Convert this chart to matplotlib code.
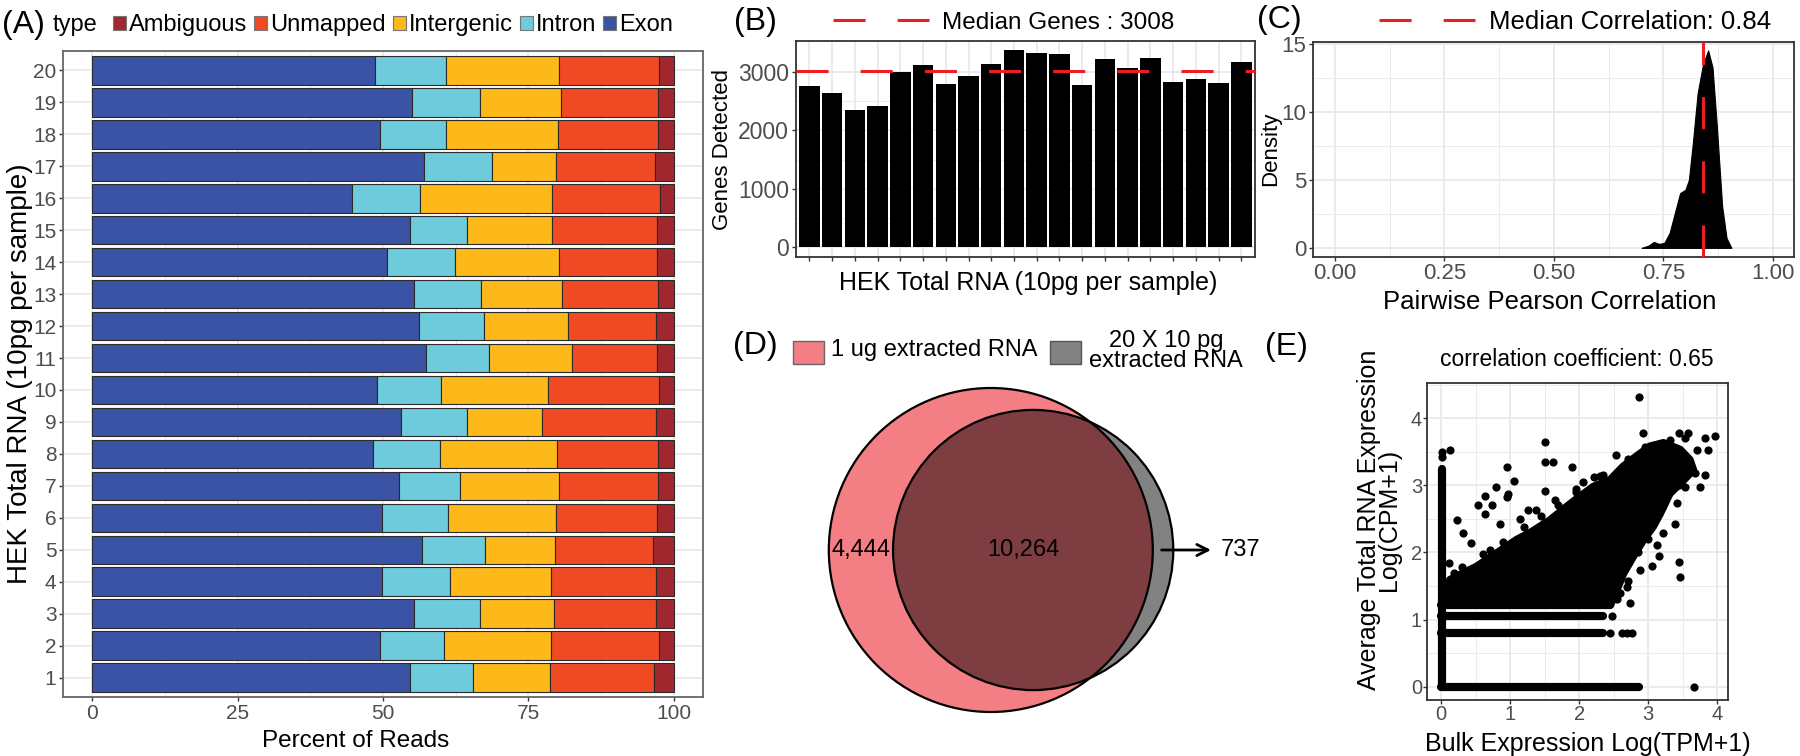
#!/usr/bin/env python3
"""HEK total RNA QC figure: read composition, genes detected, correlation, venn, bulk vs total"""
import numpy as np
import matplotlib
matplotlib.use('Agg')
import matplotlib.pyplot as plt
from matplotlib.patches import Circle, Rectangle, Patch
from matplotlib.lines import Line2D

plt.rcParams['font.family'] = ['Liberation Sans', 'DejaVu Sans']

# ---------- (A) read composition per sample (% of reads) ----------
samples = list(range(1, 21))
exon = [54.6, 49.5, 55.4, 49.9, 56.7, 49.9, 52.7, 48.2, 53.1, 49.0,
        57.4, 56.2, 55.3, 50.7, 54.6, 44.7, 57.1, 49.4, 55.0, 48.7]
intron = [10.8, 10.9, 11.3, 11.7, 10.9, 11.2, 10.5, 11.6, 11.3, 10.9,
          10.9, 11.2, 11.5, 11.6, 9.8, 11.7, 11.7, 11.5, 11.7, 12.1]
intergenic = [13.3, 18.4, 12.7, 17.3, 12.0, 18.7, 17.0, 20.1, 13.0, 18.5,
              14.1, 14.4, 13.9, 18.0, 14.7, 22.6, 11.0, 19.1, 13.9, 19.5]
unmapped = [17.9, 18.6, 17.6, 18.1, 16.8, 17.3, 17.0, 17.4, 19.5, 19.1,
            14.7, 15.1, 16.5, 16.8, 18.0, 18.6, 16.9, 17.3, 16.6, 17.1]
ambiguous = [3.4, 2.6, 3.0, 3.0, 3.6, 2.9, 2.8, 2.7, 3.1, 2.5,
             2.9, 3.1, 2.8, 2.9, 2.9, 2.4, 3.3, 2.7, 2.8, 2.6]
type_names = ["Exon", "Intron", "Intergenic", "Unmapped", "Ambiguous"]
type_colors = ["#3A53A4", "#6DCBDB", "#FDB819", "#F04A24", "#A0272D"]

# ---------- (B) genes detected per sample ----------
genes_detected = [2761, 2641, 2345, 2414, 3006, 3120, 2789, 2937, 3131, 3381,
                  3319, 3313, 2784, 3216, 3063, 3239, 2829, 2886, 2812, 3171]
median_genes = 3008

# ---------- (C) pairwise correlation density ----------
corr_x = [0.700, 0.716, 0.728, 0.740, 0.752, 0.764, 0.776, 0.788, 0.800, 0.808,
          0.817, 0.828, 0.840, 0.852, 0.862, 0.872, 0.884, 0.894, 0.905]
corr_y = [0.0, 0.17, 0.44, 0.29, 0.37, 1.1, 2.57, 4.04, 4.28, 5.0,
          7.7, 11.4, 13.5, 14.56, 13.3, 8.9, 3.06, 0.73, 0.0]
median_corr = 0.84

# ---------- (D) venn counts ----------
only_1ug = 4444
both = 10264
only_pooled = 737
venn_names = ["1 ug extracted RNA", "20 X 10 pg\nextracted RNA"]

# ---------- (E) bulk vs total RNA ----------
corr_coef = 0.65
# discrete low-count rows: y level, x from, x to
band_y = [0.0, 0.795, 1.058, 1.217]
band_x0 = [0.0, 0.0, 0.0, 0.0]
band_x1 = [2.86, 2.35, 2.35, 2.45]
# genes with ~0 bulk expression
strip_x, strip_y0, strip_y1 = 0.02, 0.0, 3.25
# solid core of the point cloud (outline)
core_x = [0.10, 0.13, 0.52, 0.81, 1.10, 1.29, 1.58, 1.82, 2.01, 2.21, 2.45, 2.64, 2.83,
          3.03, 3.22, 3.46, 3.60, 3.65, 3.51, 3.31, 3.17, 3.07, 2.93, 2.78, 2.64, 2.52, 2.45]
core_y = [1.22, 1.59, 1.79, 1.99, 2.19, 2.29, 2.48, 2.68, 2.83, 2.98, 3.08, 3.28, 3.43,
          3.58, 3.63, 3.53, 3.38, 3.23, 3.08, 2.88, 2.58, 2.39, 2.19, 1.94, 1.69, 1.39, 1.22]
# scattered points around the core
pts_x = [2.86, 2.92, 1.51, 1.51, 1.62, 0.13, 0.95, 1.89, 1.06, 0.80, 0.97, 0.95, 0.64, 0.53,
         0.23, 0.32, 0.44, 0.71, 1.51, 1.65, 1.26, 1.38, 2.21, 2.35, 2.54, 3.07, 3.31, 3.44,
         3.58, 3.53, 3.82, 3.97, 3.87, 3.70, 3.82, 3.68, 3.75, 3.53, 3.41, 3.39, 3.22, 3.12,
         3.44, 3.46, 3.06, 2.88, 2.69, 2.59, 2.74, 0.11, 0.18, 0.64, 0.74, 0.85, 1.15, 1.95,
         2.05, 2.60, 2.80, 3.30, 3.15, 3.00, 0.02, 0.02, 3.67, 2.45, 2.62, 2.69, 2.76, 2.48,
         0.20, 0.30, 0.40, 0.60, 0.90, 1.20, 1.45, 1.70, 1.95, 2.30, 2.70, 2.95,
         2.55, 2.70, 2.85, 3.00, 3.20, 3.45]
pts_y = [4.32, 3.78, 3.64, 3.35, 3.35, 3.53, 3.28, 3.28, 3.06, 2.98, 2.87, 2.82, 2.84, 2.70,
         2.48, 2.29, 2.14, 2.03, 2.91, 2.78, 2.63, 2.63, 3.13, 3.16, 3.45, 3.58, 3.68, 3.78,
         3.78, 3.70, 3.70, 3.73, 3.53, 3.53, 3.16, 3.18, 2.98, 2.98, 2.73, 2.43, 2.29, 2.11,
         1.86, 1.63, 1.80, 1.74, 1.49, 1.39, 1.24, 1.84, 1.69, 2.58, 2.70, 2.42, 2.50, 2.95,
         3.05, 3.20, 3.35, 3.45, 1.95, 2.20, 3.42, 3.50, 0.0, 0.795, 0.795, 0.795, 0.795, 1.058,
         1.66, 1.78, 1.74, 1.97, 2.16, 2.38, 2.54, 2.70, 2.90, 3.14, 3.40, 3.57,
         1.30, 1.58, 2.00, 2.34, 2.68, 3.00]

W, H = 1800, 756
RED = "#EE1C25"
GRID = "#EBEBEB"
TICKC = "#4D4D4D"

fig = plt.figure(figsize=(18, 7.56), dpi=100)


def px_axes(l, t, r, b):
    return fig.add_axes([l / W, 1 - b / H, (r - l) / W, (b - t) / H])


def ftext(x, y, s, **kw):
    kw.setdefault("ha", "center")
    kw.setdefault("va", "center")
    fig.text(x / W, 1 - y / H, s, **kw)


def gg_style(ax, border="#333333", tick_size=16, pad=2):
    for sp in ax.spines.values():
        sp.set_color(border)
        sp.set_linewidth(1.3)
    ax.grid(True, which="major", color=GRID, lw=1.4)
    ax.grid(True, which="minor", color=GRID, lw=0.7)
    ax.set_axisbelow(True)
    ax.tick_params(which="major", length=2.75, width=1.0, color="#333333",
                   labelcolor=TICKC, labelsize=tick_size, pad=pad)
    ax.tick_params(which="minor", length=0)


# ======== (A) ========
ax = px_axes(63, 51, 703, 697)
gg_style(ax, border="#666666", tick_size=15)
left = np.zeros(len(samples))
for name, vals, col in zip(type_names, [exon, intron, intergenic, unmapped, ambiguous], type_colors):
    ax.barh(samples, vals, left=left, height=0.9, color=col, edgecolor="#2A2A2A", lw=0.8)
    left += np.array(vals)
ax.set_xlim(-5, 105)
ax.set_ylim(0.4, 20.6)
ax.set_xticks([0, 25, 50, 75, 100])
ax.set_xticks([12.5, 37.5, 62.5, 87.5], minor=True)
ax.set_yticks(samples)
ax.grid(False, axis="y", which="minor")
ftext(356, 741, "Percent of Reads", fontsize=17.5)
ftext(20, 374, "HEK Total RNA (10pg per sample)", fontsize=20, rotation=90)
ftext(23, 25, "(A)", fontsize=23)
ftext(53, 25, "type", fontsize=17, ha="left")
handles = [Patch(facecolor=c, edgecolor="#777777", lw=0.8) for c in type_colors[::-1]]
ax.legend(handles, type_names[::-1], loc="center left", ncol=5,
          bbox_to_anchor=(113 / W, 1 - 25 / H), bbox_transform=fig.transFigure,
          frameon=False, fontsize=17, handlelength=0.55, handleheight=0.55,
          handletextpad=0.12, columnspacing=0.3, borderpad=0, borderaxespad=0)

# ======== (B) ========
ax = px_axes(795.7, 40.7, 1255, 256.7)
gg_style(ax, tick_size=16.5)
ax.bar(samples, genes_detected, width=0.9, color="black", lw=0)
ax.axhline(median_genes, color=RED, lw=2.2, dashes=(10.5, 10.5), zorder=3)
ax.set_xlim(0.4, 20.6)
ax.set_ylim(-165, 3535)
ax.set_xticks(samples)
ax.set_xticklabels([])
ax.set_yticks([0, 1000, 2000, 3000])
ax.set_yticks([500, 1500, 2500], minor=True)
ftext(1028, 283, "HEK Total RNA (10pg per sample)", fontsize=18)
ftext(723, 149, "Genes Detected", fontsize=16, rotation=90)
ftext(755, 22, "(B)", fontsize=23)
h = Line2D([], [], color=RED, lw=2.2, dashes=(10.5, 10.5))
ax.legend([h], [f"Median Genes : {median_genes}"], loc="center left",
          bbox_to_anchor=(833 / W, 1 - 22.7 / H), bbox_transform=fig.transFigure,
          frameon=False, fontsize=17.5, handlelength=3.95, handletextpad=0.55,
          borderpad=0, borderaxespad=0)

# ======== (C) ========
ax = px_axes(1313, 41.7, 1794, 256.7)
gg_style(ax, tick_size=16)
ax.fill_between(corr_x, corr_y, color="black", lw=0.8, edgecolor="black", zorder=2)
ax.axvline(median_corr, color=RED, lw=2.2, dashes=(10.5, 10.5), zorder=3)
ax.set_xlim(-0.05, 1.048)
ax.set_ylim(-0.65, 15.2)
ax.set_xticks([0, 0.25, 0.5, 0.75, 1.0])
ax.set_xticklabels(["0.00", "0.25", "0.50", "0.75", "1.00"])
ax.set_xticks([0.125, 0.375, 0.625, 0.875], minor=True)
ax.set_yticks([0, 5, 10, 15])
ax.set_yticks([2.5, 7.5, 12.5], minor=True)
ftext(1550, 302, "Pairwise Pearson Correlation", fontsize=18.5)
ftext(1271, 149, "Density", fontsize=16, rotation=90)
ftext(1279, 20, "(C)", fontsize=23)
h = Line2D([], [], color=RED, lw=2.2, dashes=(10.5, 10.5))
ax.legend([h], [f"Median Correlation: {median_corr:.2f}"], loc="center left",
          bbox_to_anchor=(1379 / W, 1 - 21.7 / H), bbox_transform=fig.transFigure,
          frameon=False, fontsize=18.5, handlelength=3.74, handletextpad=0.55,
          borderpad=0, borderaxespad=0)

# ======== (D) venn ========
PINK, DARK, GREY = "#F37E84", "#7E3D40", "#828282"
axd = px_axes(700, 330, 1300, 756)
axd.set_xlim(700, 1300)
axd.set_ylim(756, 330)
axd.axis("off")
n1 = only_1ug + both
n2 = only_pooled + both
r1 = 162.0
k = r1 / np.sqrt(n1)
r2 = k * np.sqrt(n2)
target = np.pi * k ** 2 * both


def overlap(d):
    a = r1 ** 2 * np.arccos((d ** 2 + r1 ** 2 - r2 ** 2) / (2 * d * r1))
    b = r2 ** 2 * np.arccos((d ** 2 + r2 ** 2 - r1 ** 2) / (2 * d * r2))
    c = 0.5 * np.sqrt((-d + r1 + r2) * (d + r1 - r2) * (d - r1 + r2) * (d + r1 + r2))
    return a + b - c


lo, hi = r1 - r2 + 1e-6, r1 + r2 - 1e-6
for _ in range(60):
    mid = (lo + hi) / 2
    if overlap(mid) > target:
        lo = mid
    else:
        hi = mid
dist = (lo + hi) / 2
cx1, cy = 990.8, 550.0
cx2 = cx1 + dist
c1 = Circle((cx1, cy), r1, fc=PINK, ec="none", zorder=1)
axd.add_patch(c1)
axd.add_patch(Circle((cx2, cy), r2, fc=GREY, ec="none", zorder=1.5))
ov = Circle((cx2, cy), r2, fc=DARK, ec="none", zorder=2)
axd.add_patch(ov)
ov.set_clip_path(c1)
axd.add_patch(Circle((cx1, cy), r1, fill=False, ec="black", lw=1.6, zorder=3))
axd.add_patch(Circle((cx2, cy), r2, fill=False, ec="black", lw=1.6, zorder=3))
axd.text(((cx1 - r1) + (cx2 - r2)) / 2, cy, f"{only_1ug:,}", ha="center", va="center", fontsize=17, zorder=4)
axd.text(((cx2 - r2) + (cx1 + r1)) / 2, cy, f"{both:,}", ha="center", va="center", fontsize=17, zorder=4)
arr_x0 = cx1 + r1 + 6
axd.annotate("", xy=(arr_x0 + 55, cy), xytext=(arr_x0, cy),
             arrowprops=dict(arrowstyle="->", lw=2.0, color="black", mutation_scale=20), zorder=4)
axd.text(arr_x0 + 62, cy, f"{only_pooled:,}", ha="left", va="center", fontsize=17)
ftext(755, 346, "(D)", fontsize=23)
fig.patches.append(Rectangle((793 / W, 1 - 364 / H), 31 / W, 23 / H, transform=fig.transFigure,
                             fc=PINK, ec="#666666", lw=1))
fig.patches.append(Rectangle((1050 / W, 1 - 364 / H), 31 / W, 23 / H, transform=fig.transFigure,
                             fc=GREY, ec="#555555", lw=1))
ftext(831, 350, venn_names[0], fontsize=17, ha="left")
ftext(1166, 351, venn_names[1], fontsize=17, multialignment="center", linespacing=0.85)

# ======== (E) ========
ax = px_axes(1427.3, 382.7, 1728.3, 700)
gg_style(ax, tick_size=14.5, pad=1.0)
LW_PT = 5.9
for y, x0, x1 in zip(band_y, band_x0, band_x1):
    ax.plot([x0, x1], [y, y], color="black", lw=LW_PT, solid_capstyle="round", zorder=3)
ax.plot([strip_x, strip_x], [strip_y0, strip_y1], color="black", lw=LW_PT,
        solid_capstyle="round", zorder=3)
ax.fill(core_x, core_y, fc="black", ec="black", lw=LW_PT, joinstyle="round", zorder=3)
ax.scatter(pts_x, pts_y, s=LW_PT ** 2, color="black", lw=0, zorder=4)
ax.set_xlim(-0.2, 4.16)
ax.set_ylim(-0.2, 4.53)
ax.set_xticks([0, 1, 2, 3, 4])
ax.set_xticks([0.5, 1.5, 2.5, 3.5], minor=True)
ax.set_yticks([0, 1, 2, 3, 4])
ax.set_yticks([0.5, 1.5, 2.5, 3.5, 4.5], minor=True)
ftext(1577, 360, f"correlation coefficient: {corr_coef:.2f}", fontsize=16.5)
ftext(1588, 750.5, "Bulk Expression Log(TPM+1)", fontsize=18, va="baseline")
ftext(1379, 520, "Average Total RNA Expression\nLog(CPM+1)", fontsize=18, rotation=90,
      multialignment="center", linespacing=0.82)
ftext(1286, 347, "(E)", fontsize=23)

fig.savefig("out.png", dpi=100, facecolor="white")
